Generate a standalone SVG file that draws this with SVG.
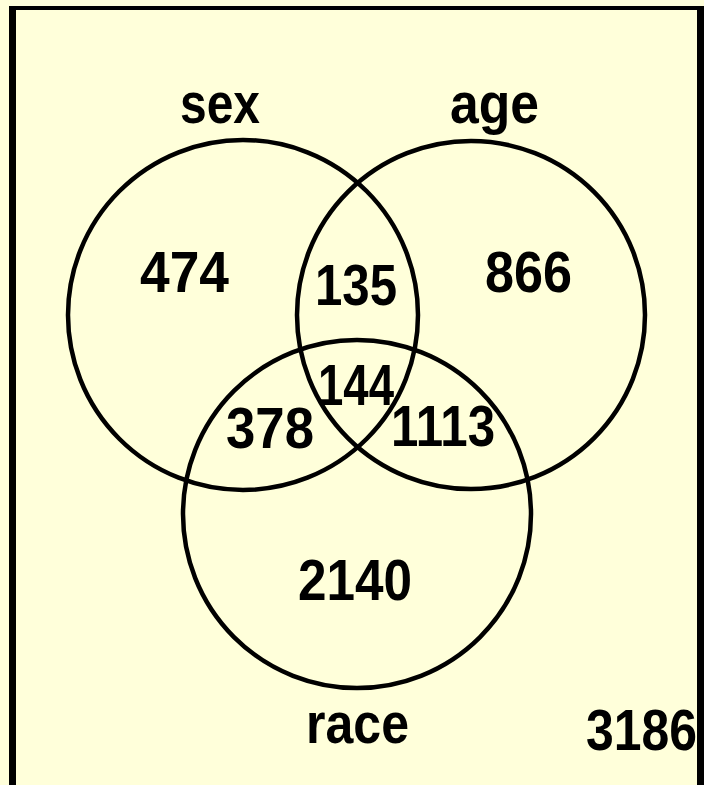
<svg xmlns="http://www.w3.org/2000/svg" width="704" height="785" viewBox="0 0 704 785">
  <style>
    .set { fill: none; stroke: #000; stroke-width: 4.5; }
    .lbl { font-family: "Liberation Sans", Arial, sans-serif; font-weight: bold; font-size: 57px; fill: #000; }
    .frame { fill: #000; }
  </style>
  <rect x="0" y="0" width="704" height="785" fill="#FFFFDA"/>
  <g id="sex">
    <circle class="set" cx="243" cy="315" r="175"/>
    <text class="lbl" x="180" y="123" textLength="80" lengthAdjust="spacingAndGlyphs">sex</text>
  </g>
  <g id="age">
    <circle class="set" cx="471" cy="315" r="174"/>
    <text class="lbl" x="450" y="123" textLength="89" lengthAdjust="spacingAndGlyphs">age</text>
  </g>
  <g id="race">
    <circle class="set" cx="357" cy="514" r="174"/>
    <text class="lbl" x="306" y="743" textLength="103" lengthAdjust="spacingAndGlyphs">race</text>
  </g>
  <g id="counts">
    <text class="lbl" x="140" y="292" textLength="89" lengthAdjust="spacingAndGlyphs">474</text>
    <text class="lbl" x="485" y="292" textLength="87" lengthAdjust="spacingAndGlyphs">866</text>
    <text class="lbl" x="315" y="305" textLength="82" lengthAdjust="spacingAndGlyphs">135</text>
    <text class="lbl" x="318" y="405" textLength="76" lengthAdjust="spacingAndGlyphs">144</text>
    <text class="lbl" x="226" y="448" textLength="88" lengthAdjust="spacingAndGlyphs">378</text>
    <text class="lbl" x="391" y="446" textLength="104" lengthAdjust="spacingAndGlyphs">1113</text>
    <text class="lbl" x="298" y="600" textLength="114" lengthAdjust="spacingAndGlyphs">2140</text>
    <text class="lbl" x="586" y="750" textLength="111" lengthAdjust="spacingAndGlyphs">3186</text>
  </g>
  <g id="frame">
    <rect class="frame" x="9" y="6" width="695" height="4"/>
    <rect class="frame" x="9" y="6" width="7" height="779"/>
    <rect class="frame" x="697" y="6" width="7" height="779"/>
  </g>
</svg>
